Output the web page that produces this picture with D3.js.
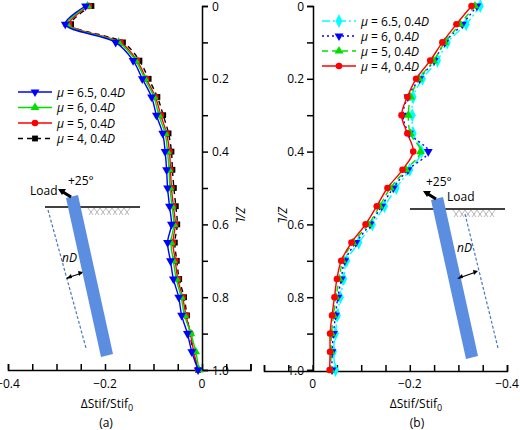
<!DOCTYPE html>
<html><head><meta charset="utf-8">
<script src="https://cdn.jsdelivr.net/npm/d3@7"></script>
<style>body{margin:0;background:#fff}text{font-family:"Open Sans",sans-serif}</style>
</head><body><svg id="c" width="520" height="430"></svg>
<script>
const depth=[0,0.05,0.1,0.15,0.2,0.25,0.3,0.35,0.4,0.45,0.5,0.55,0.6,0.65,0.7,0.75,0.8,0.85,0.9,0.95,1.0];
const aLabels=["μ = 6.5, 0.4","μ = 6, 0.4","μ = 5, 0.4","μ = 4, 0.4"];
const a65=[-0.240,-0.282,-0.178,-0.142,-0.123,-0.104,-0.094,-0.081,-0.076,-0.073,-0.071,-0.067,-0.063,-0.071,-0.065,-0.059,-0.048,-0.042,-0.030,-0.021,-0.008];
const a6=[-0.236,-0.278,-0.172,-0.137,-0.118,-0.099,-0.089,-0.076,-0.071,-0.068,-0.066,-0.062,-0.058,-0.064,-0.059,-0.053,-0.043,-0.036,-0.023,-0.013,-0.006];
const a5=[-0.233,-0.274,-0.168,-0.134,-0.115,-0.096,-0.085,-0.073,-0.067,-0.065,-0.063,-0.059,-0.055,-0.060,-0.055,-0.050,-0.040,-0.033,-0.024,-0.017,-0.008];
const a4=[-0.228,-0.270,-0.163,-0.129,-0.110,-0.092,-0.080,-0.069,-0.063,-0.061,-0.058,-0.054,-0.051,-0.056,-0.052,-0.047,-0.037,-0.031,-0.025,-0.018,-0.008];
const b65=[-0.345,-0.316,-0.277,-0.257,-0.226,-0.207,-0.205,-0.207,-0.224,-0.200,-0.172,-0.148,-0.123,-0.095,-0.070,-0.064,-0.057,-0.051,-0.047,-0.043,-0.047];
const b6=[-0.338,-0.308,-0.272,-0.250,-0.220,-0.196,-0.186,-0.199,-0.238,-0.196,-0.166,-0.142,-0.118,-0.089,-0.066,-0.059,-0.052,-0.047,-0.043,-0.040,-0.040];
const b5=[-0.334,-0.303,-0.272,-0.249,-0.219,-0.202,-0.197,-0.201,-0.222,-0.192,-0.160,-0.138,-0.115,-0.083,-0.062,-0.055,-0.048,-0.043,-0.039,-0.038,-0.037];
const b4=[-0.327,-0.296,-0.267,-0.242,-0.213,-0.195,-0.183,-0.195,-0.207,-0.185,-0.154,-0.132,-0.109,-0.080,-0.059,-0.050,-0.045,-0.040,-0.036,-0.036,-0.035];
const yTicks=[0,0.2,0.4,0.6,0.8,1.0];
const xTicksA=[-0.4,-0.2,0];
const xTicksB=[0,-0.2,-0.4];

const svg=d3.select("#c");
const y=d3.scaleLinear().domain([0,1]).range([6,370]);
const xa=d3.scaleLinear().domain([-0.4,0.1]).range([8,250.5]);
const xb=d3.scaleLinear().domain([0.1,-0.4]).range([264,507]);
const fmtY=d=>d===0?"0":d.toFixed(1);
const fmtX=d=>d===0?"0":d.toFixed(1).replace("-","−");

function symbol(g,type,x,yv,col){
  const s=d3.symbol().size(34);
  const map={down:d3.symbolTriangle,up:d3.symbolTriangle,circle:d3.symbolCircle,square:d3.symbolSquare,diamond:d3.symbolDiamond};
  g.append("path").attr("d",s.type(map[type])()).attr("fill",col)
   .attr("transform",`translate(${x},${yv})`+(type==="down"?" rotate(180)":"")+(type==="diamond"?" scale(1.1,1.3)":""));
}
function drawSeries(g,x,vals,col,dash,mk){
  const line=d3.line().x(d=>x(d[0])).y(d=>y(d[1])).curve(d3.curveCatmullRom);
  const pts=vals.map((v,i)=>[v,depth[i]]);
  g.append("path").attr("d",line(pts)).attr("fill","none").attr("stroke",col).attr("stroke-width",1.4).attr("stroke-dasharray",dash);
  pts.forEach(p=>symbol(g,mk,x(p[0]),y(p[1]),col));
}
function legend(g,x0,y0,items,step){
  items.forEach((it,i)=>{
    const yy=y0+i*step;
    g.append("line").attr("x1",x0).attr("x2",x0+34).attr("y1",yy).attr("y2",yy).attr("stroke",it.col).attr("stroke-width",1.4).attr("stroke-dasharray",it.dash);
    symbol(g,it.mk,x0+17,yy,it.col);
    const t=g.append("text").attr("x",x0+39).attr("y",yy+4.5).attr("font-size",12);
    t.append("tspan").attr("font-style","italic").text("μ");
    t.append("tspan").text(it.label.slice(1));
    t.append("tspan").attr("font-style","italic").text("D");
  });
}
function pile(g,dx,dy,dashRight){
  const G=g.append("g").attr("transform",`translate(${dx},${dy})`);
  G.append("line").attr("x1",45).attr("x2",140).attr("y1",207).attr("y2",207).attr("stroke","#000").attr("stroke-width",1.5);
  for(let i=0;i<7;i++){
    G.append("path").attr("d",`M${88+i*6},208 l5,7 M${94+i*6},208 l-5,7`).attr("stroke","#999").attr("stroke-width",0.7);
  }
  G.append("polygon").attr("points","66,198 78,195 113,354 101,357").attr("fill","#5b8ee0");
  if(dashRight){
    G.append("line").attr("x1",100).attr("y1",212).attr("x2",133).attr("y2",346).attr("stroke","#4a78c0").attr("stroke-width",1.2).attr("stroke-dasharray","3,2");
    G.append("path").attr("d","M94,276 L111,270").attr("stroke","#000").attr("stroke-width",1.3);
    G.append("path").attr("d","M92,277 l5,-5 l1,4z M113,269 l-5,-1 l1,5z").attr("fill","#000");
  } else {
    G.append("line").attr("x1",48).attr("y1",210).attr("x2",86).attr("y2",348).attr("stroke","#4a78c0").attr("stroke-width",1.2).attr("stroke-dasharray","3,2");
    G.append("path").attr("d","M67,278 L82,273").attr("stroke","#000").attr("stroke-width",1.3);
    G.append("path").attr("d","M66,279 l5,-5 l1,4z M83,272 l-5,-1 l1,5z").attr("fill","#000");
  }
  G.append("path").attr("d","M71,197 L63,192").attr("stroke","#000").attr("stroke-width",3);
  G.append("path").attr("d","M58,189 l8,0 l-4,6z").attr("fill","#000");
}
const ga=svg.append("g"), gb=svg.append("g");
pile(ga,0,0,false); pile(gb,365,2,true);
ga.append("text").attr("x",30).attr("y",195).attr("font-size",12).text("Load");
ga.append("text").attr("x",68).attr("y",185).attr("font-size",12).text("+25°");
ga.append("text").attr("x",62).attr("y",262).attr("font-size",12).attr("font-style","italic").text("nD");
gb.append("text").attr("x",447).attr("y",201).attr("font-size",12).text("Load");
gb.append("text").attr("x",426).attr("y",186).attr("font-size",12).text("+25°");
gb.append("text").attr("x",457).attr("y",252).attr("font-size",12).attr("font-style","italic").text("nD");

// axes a
const axA=ga.append("g").attr("transform","translate(0,370)").call(d3.axisBottom(xa).tickValues(d3.range(-0.4,0.101,0.05)).tickSize(-6).tickFormat(""));
const axA2=ga.append("g").attr("transform","translate(202,0)").call(d3.axisRight(y).tickValues(d3.range(0,1.01,0.1)).tickSize(6).tickFormat(""));
[axA,axA2].forEach(a=>{a.selectAll("path,line").attr("stroke","#000").attr("stroke-width",1.5);});
xTicksA.forEach(v=>ga.append("text").attr("x",xa(v)).attr("y",388).attr("text-anchor","middle").attr("font-size",12).text(fmtX(v)));
yTicks.forEach(v=>ga.append("text").attr("x",212).attr("y",y(v)+4.5).attr("font-size",12).text(fmtY(v)));
ga.append("text").attr("transform","translate(236,215) rotate(90)").attr("text-anchor","middle").attr("font-size",12).attr("font-style","italic").text("Z/L");
const xl=(g,x)=>{const t=g.append("text").attr("x",x).attr("y",408).attr("text-anchor","middle").attr("font-size",12);t.append("tspan").text("ΔStif/Stif");t.append("tspan").attr("font-size",9).attr("dy",3).text("0");};
xl(ga,107); xl(gb,416);
ga.append("text").attr("x",106).attr("y",427).attr("text-anchor","middle").attr("font-size",12).text("(a)");
gb.append("text").attr("x",417).attr("y",427).attr("text-anchor","middle").attr("font-size",12).text("(b)");

drawSeries(ga,xa,a4,"#000","5,4","square");
drawSeries(ga,xa,a5,"#ff0000","","circle");
drawSeries(ga,xa,a6,"#00e000","","up");
drawSeries(ga,xa,a65,"#0000ff","","down");
legend(ga,18,92,[{label:aLabels[0],col:"#0000ff",dash:"",mk:"down"},{label:aLabels[1],col:"#00e000",dash:"",mk:"up"},{label:aLabels[2],col:"#ff0000",dash:"",mk:"circle"},{label:aLabels[3],col:"#000",dash:"5,4",mk:"square"}],15.5);

// axes b
const axB=gb.append("g").attr("transform","translate(0,371)").call(d3.axisBottom(xb).tickValues(d3.range(-0.4,0.101,0.05)).tickSize(-6).tickFormat(""));
const axB2=gb.append("g").attr("transform","translate(313,0)").call(d3.axisLeft(y).tickValues(d3.range(0,1.01,0.1)).tickSize(6).tickFormat(""));
[axB,axB2].forEach(a=>{a.selectAll("path,line").attr("stroke","#000").attr("stroke-width",1.5);});
xTicksB.forEach(v=>gb.append("text").attr("x",xb(v)).attr("y",388).attr("text-anchor","middle").attr("font-size",12).text(fmtX(v)));
yTicks.forEach(v=>gb.append("text").attr("x",304).attr("y",y(v)+4.5).attr("text-anchor","end").attr("font-size",12).text(fmtY(v)));
gb.append("text").attr("transform","translate(278,215) rotate(90)").attr("text-anchor","middle").attr("font-size",12).attr("font-style","italic").text("Z/L");
drawSeries(gb,xb,b65,"#00ffff","8,3,2,3","diamond");
drawSeries(gb,xb,b6,"#0000ff","2,3","down");
drawSeries(gb,xb,b5,"#00e000","6,4","up");
drawSeries(gb,xb,b4,"#ff0000","","circle");
legend(gb,322,21,[{label:aLabels[0],col:"#00ffff",dash:"8,3,2,3",mk:"diamond"},{label:aLabels[1],col:"#0000ff",dash:"2,3",mk:"down"},{label:aLabels[2],col:"#00e000",dash:"6,4",mk:"up"},{label:aLabels[3],col:"#ff0000",dash:"",mk:"circle"}],15);
</script></body></html>
